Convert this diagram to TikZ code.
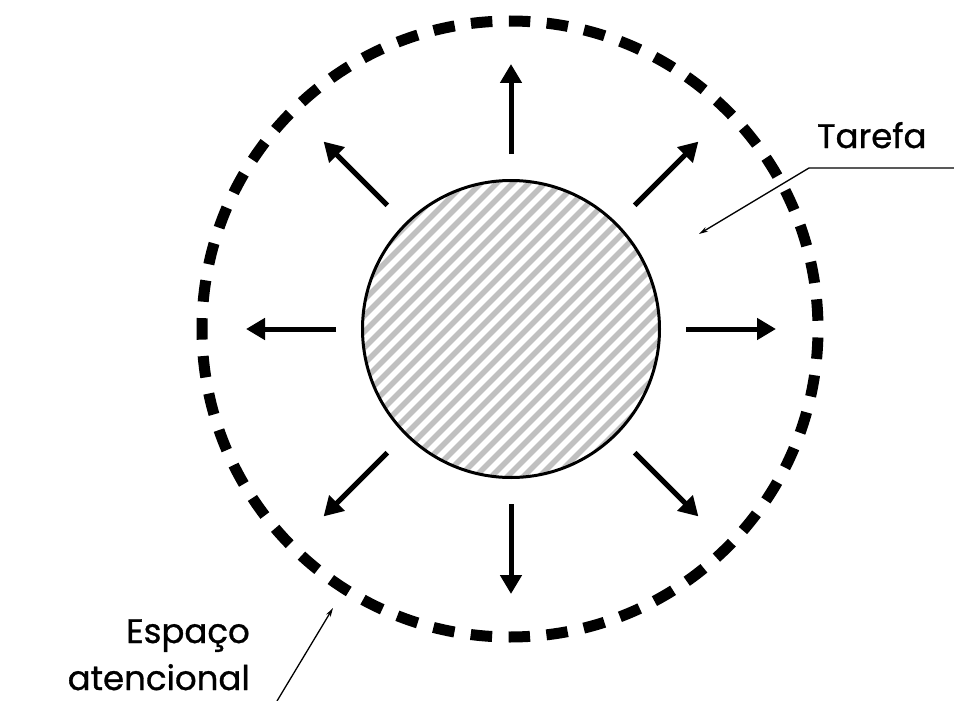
\documentclass[tikz,border=0pt]{standalone}
\usepackage{fontspec}
\setmainfont{Poppins}
\newfontfamily\lblfont{Poppins}[FakeBold=0.9]
\usetikzlibrary{arrows.meta, calc}
\definecolor{hatchgray}{RGB}{192,192,192}

\begin{document}
\begin{tikzpicture}[
  x=1pt, y=-1pt,
  space/.style={circle, draw, line width=11pt, dash pattern=on 21.5pt off 16.445pt, dash phase=29.7pt, minimum size=616pt, inner sep=0pt},
  hatch/.style={hatchgray, line width=5.5pt},
  task/.style={circle, draw, line width=3pt, minimum size=297pt, inner sep=0pt,
    path picture={\foreach \c in {-240,-224,...,240}
      \draw[hatch] ($(path picture bounding box.center)+(\c-220,220)$) -- ++(440,-440);}},
  ray/.style={-{Triangle[length=19pt, width=21pt]}, line width=5pt},
  lead/.style={-{Stealth[length=9pt, width=5pt]}, line width=1.3pt},
  lbl/.style={font=\lblfont\fontsize{34}{40}\selectfont, inner sep=0pt}
]
\useasboundingbox (0,0) rectangle (954,701);

% circles
\node[space] (space) at (510,329) {};
\node[task] (task) at (511,329) {};

% radiating arrows
\foreach \a in {0,45,...,315}
  \draw[ray] ($(task.center)+(\a:175)$) -- ($(task.center)+(\a:265)$);

% labels
\node[lbl, anchor=base west] (tarefa) at (817,148) {Tarefa};
\node[lbl, anchor=base east] (espaco) at (250,643) {Espaço};
\node[lbl, anchor=base east] (atenc) at (250,690) {atencional};

% leaders
\coordinate (tarefaend) at (954,168);
\coordinate (tarefabend) at (809,168);
\coordinate (tarefatip) at (699,234);
\draw[lead] (tarefaend) -- (tarefabend) -- (tarefatip);

\coordinate (espfoot) at (277,701);
\coordinate (esptip) at (333,608);
\draw[lead] (espfoot) -- (esptip);

\end{tikzpicture}
\end{document}
